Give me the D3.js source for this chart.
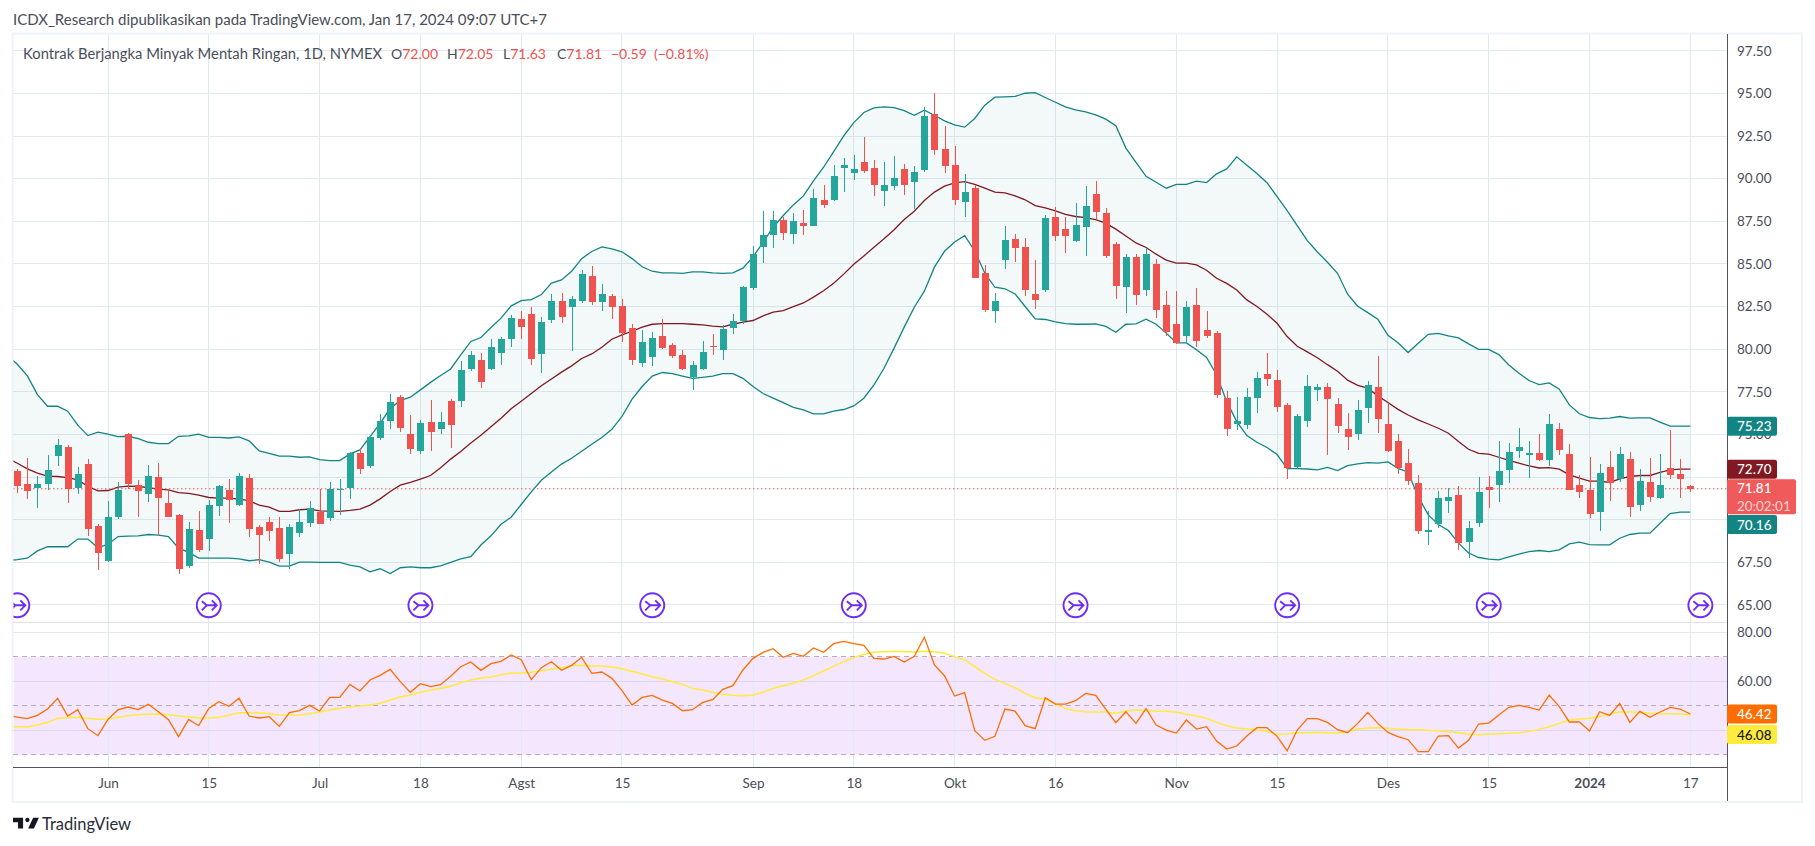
<!DOCTYPE html>
<html><head><meta charset="utf-8">
<script src="https://cdnjs.cloudflare.com/ajax/libs/d3/7.8.5/d3.min.js"></script>
<style>html,body{margin:0;padding:0;background:#fff;overflow:hidden}svg{display:block}text{font-family:Lato,"Noto Sans",sans-serif}</style>
</head><body><svg id="c" width="1815" height="846"></svg>
<script>
const opens=[72.87,72.10,71.85,72.10,73.75,74.27,71.85,73.28,69.64,67.59,
70.17,75.04,72.04,71.52,72.51,70.99,70.28,67.29,69.40,68.88,
70.81,71.75,70.87,72.45,69.58,69.87,69.52,68.00,69.23,69.82,
70.46,70.11,71.77,71.87,73.92,73.16,74.79,75.79,77.20,75.03,
74.03,75.70,75.30,76.93,76.93,78.84,79.37,78.84,79.78,80.60,
81.78,82.07,79.72,81.72,82.83,82.48,82.83,84.30,82.77,83.13,
82.54,81.25,79.20,79.55,80.78,80.25,79.66,78.38,78.84,80.19,
79.96,81.25,81.66,83.59,86.00,86.70,87.58,86.76,87.41,87.23,
88.76,88.76,90.63,90.34,90.98,90.63,89.28,89.58,90.57,89.81,
90.51,93.80,91.75,90.81,88.64,89.46,84.47,82.25,85.24,86.47,
86.00,83.24,83.48,87.76,87.05,86.35,87.17,89.11,87.99,86.17,
83.65,85.41,83.48,85.00,82.60,81.48,80.78,82.60,81.13,80.95,
77.14,75.61,75.56,77.14,78.55,78.19,76.73,73.09,75.79,77.61,
77.78,76.79,75.32,75.03,76.55,77.78,75.61,74.62,73.33,72.15,
69.28,69.75,71.10,71.45,68.71,69.81,71.92,72.04,72.92,74.03,
73.80,73.91,73.50,75.33,73.86,72.04,71.75,70.46,73.10,72.39,
73.57,70.87,72.22,71.28,73.04,72.69,72.00];
const closes=[71.95,71.69,72.10,72.92,74.39,71.81,72.69,69.46,68.06,70.17,
71.75,72.10,71.69,72.57,71.28,70.17,67.12,69.46,68.23,70.87,
71.99,71.16,72.57,69.46,69.11,69.35,67.70,69.58,69.87,70.70,
69.76,71.81,71.81,73.92,72.98,74.86,75.79,76.90,75.38,74.15,
75.67,75.16,75.74,75.57,78.78,79.66,78.10,80.13,80.60,81.83,
81.31,79.43,81.60,82.83,81.89,82.95,84.42,82.77,83.24,82.48,
80.96,79.37,80.43,80.66,80.08,79.61,78.84,79.08,79.84,80.13,
81.19,81.66,83.65,85.59,86.70,87.58,86.82,87.52,87.23,88.87,
88.46,90.16,90.81,90.57,90.46,89.64,89.64,90.05,89.64,90.40,
93.68,91.69,90.75,88.76,89.22,84.18,82.30,82.83,86.41,85.94,
83.48,82.89,87.70,86.64,86.64,87.29,88.40,88.05,85.47,83.71,
85.41,83.18,85.59,82.30,81.01,80.37,82.48,80.49,80.78,77.32,
75.32,75.79,77.20,78.31,78.25,76.61,73.03,76.08,77.84,77.78,
77.08,75.50,74.85,76.43,77.90,75.91,74.03,73.03,72.27,69.34,
69.40,71.27,71.33,68.62,69.51,71.63,71.74,72.86,73.97,74.27,
73.91,73.50,75.61,74.09,71.75,71.63,70.34,72.75,72.16,73.86,
70.75,72.28,71.34,72.04,72.63,72.39,71.81];
const highs=[72.98,73.61,72.57,73.80,74.74,74.39,73.10,73.57,69.76,71.11,
72.22,75.09,72.34,73.22,73.33,71.75,70.34,69.87,70.52,71.16,
72.04,72.40,72.75,72.69,69.70,70.17,70.17,69.76,70.64,71.11,
71.81,72.22,72.40,73.98,74.21,74.98,76.20,77.37,77.32,76.14,
75.85,77.00,76.30,77.10,79.31,79.90,79.78,80.60,80.72,82.01,
82.25,82.48,81.89,83.24,83.30,83.13,84.65,84.88,83.83,83.24,
82.95,81.48,81.13,81.01,81.78,80.37,79.96,79.31,80.49,80.90,
81.42,82.07,83.71,86.06,88.11,88.11,87.76,87.99,88.17,89.40,
89.64,90.81,91.22,91.39,92.45,91.10,90.98,91.34,90.87,90.75,
94.21,95.03,93.10,91.92,90.28,89.64,84.94,83.30,87.23,86.76,
86.53,85.24,87.88,88.34,87.76,88.58,89.58,89.87,88.29,86.29,
85.59,85.59,85.94,85.30,83.42,83.42,82.83,83.59,82.25,81.07,
77.55,77.20,77.73,78.66,79.78,78.78,76.85,76.20,78.49,77.96,
78.02,77.14,76.26,77.02,78.14,79.60,76.79,75.03,74.15,72.62,
70.51,71.68,71.86,71.98,69.92,72.51,72.56,74.62,74.50,75.38,
74.62,75.03,76.20,75.68,74.45,72.63,73.68,73.27,74.04,74.27,
73.98,72.98,73.63,73.86,75.27,73.57,72.05];
const lows=[71.59,71.24,70.71,71.75,73.16,70.99,71.52,69.05,67.06,67.53,
70.05,71.79,70.17,71.05,69.05,70.17,66.82,67.18,68.11,68.17,
70.23,69.82,70.81,68.99,67.41,68.76,67.53,67.12,68.99,69.58,
69.76,69.93,70.28,71.22,72.69,73.04,74.68,75.32,75.15,73.85,
73.86,74.00,75.00,74.20,76.60,78.69,77.70,78.78,79.08,80.13,
80.60,79.08,78.60,81.54,81.54,79.90,82.71,82.60,82.25,81.78,
80.43,79.08,78.96,79.02,80.02,79.49,78.78,77.61,78.78,79.66,
79.37,80.90,81.48,83.48,85.06,85.94,86.41,86.18,86.70,87.23,
88.29,88.70,89.22,89.93,90.34,88.99,88.40,89.34,89.05,88.23,
90.40,91.39,90.34,88.46,87.76,84.18,82.19,81.54,84.71,85.12,
83.13,82.36,83.36,86.35,85.65,86.29,85.47,87.58,85.35,82.95,
82.13,82.60,83.13,81.83,80.78,80.31,80.31,80.13,80.66,77.14,
74.91,75.26,75.32,76.26,77.84,76.32,72.39,72.97,75.44,76.96,
73.80,75.09,74.09,74.68,75.67,75.09,73.97,72.68,72.04,69.16,
68.52,69.51,70.39,68.22,67.77,69.57,70.69,71.04,72.15,73.62,
72.45,73.44,73.15,73.80,71.75,71.28,70.11,69.34,71.10,72.22,
70.16,70.52,71.04,71.22,72.39,71.28,71.63];
// Indicator series start one bar before the first visible candle (clipped by the pane edge)
const bbUpper=[79.66,
79.11,78.43,77.33,76.65,76.65,76.36,75.54,74.93,75.13,75.01,
74.87,74.89,74.75,74.54,74.46,74.46,74.89,74.91,75.01,74.83,
74.83,74.79,74.85,74.62,74.03,73.89,73.72,73.72,73.66,73.68,
73.52,73.46,73.46,73.86,74.09,74.87,75.65,76.53,76.98,77.18,
77.61,78.05,78.45,78.84,79.66,80.45,80.68,81.27,81.82,82.54,
82.85,82.91,83.20,83.87,84.06,84.57,85.31,85.73,86.00,85.88,
85.71,85.31,84.83,84.57,84.47,84.47,84.45,84.53,84.53,84.47,
84.45,84.47,84.75,85.41,86.27,87.15,87.84,88.46,88.99,89.87,
90.67,91.59,92.51,93.29,93.88,94.15,94.21,94.17,93.99,93.72,
94.01,93.72,93.39,93.15,93.02,93.53,94.31,94.78,94.80,94.82,
95.01,95.05,94.76,94.48,94.21,94.03,93.92,93.74,93.49,93.10,
91.79,90.95,90.14,89.79,89.44,89.67,89.67,89.85,89.77,90.28,
90.57,91.28,90.78,90.30,89.76,88.94,88.13,87.25,86.36,85.70,
85.10,84.45,83.22,82.52,82.14,81.75,80.81,80.38,79.80,80.35,
80.87,80.93,80.78,80.66,80.31,79.99,79.99,79.68,79.07,78.59,
78.16,77.92,78.02,77.65,76.73,76.21,75.99,75.93,75.95,76.05,
75.95,75.97,75.97,75.72,75.48,75.48,75.48];
const bbBasis=[73.61,
73.31,72.98,72.73,72.55,72.53,72.47,72.34,71.95,71.69,71.71,
71.91,71.97,71.95,71.87,71.79,71.75,71.59,71.54,71.44,71.30,
71.26,71.26,71.20,71.11,70.85,70.73,70.48,70.48,70.58,70.62,
70.52,70.50,70.48,70.54,70.62,70.85,71.22,71.65,72.02,72.18,
72.38,72.59,73.05,73.55,74.00,74.50,74.95,75.45,75.95,76.50,
76.95,77.40,77.85,78.25,78.65,79.02,79.45,79.72,80.11,80.58,
80.84,81.05,81.29,81.46,81.50,81.50,81.50,81.46,81.42,81.35,
81.31,81.46,81.58,81.68,81.95,82.17,82.26,82.50,82.71,83.05,
83.42,83.87,84.40,84.98,85.47,85.98,86.47,87.00,87.60,88.09,
88.72,89.21,89.56,89.75,89.83,89.67,89.44,89.21,89.17,88.99,
88.76,88.42,88.29,88.11,87.91,87.78,87.72,87.60,87.39,87.04,
86.64,86.23,85.96,85.57,85.22,85.04,85.04,84.94,84.63,84.16,
83.86,83.47,82.89,82.50,82.05,81.52,80.74,80.17,79.84,79.50,
79.09,78.70,78.18,77.88,77.71,77.26,76.87,76.47,76.14,75.85,
75.61,75.36,75.07,74.58,74.13,73.89,73.84,73.66,73.48,73.31,
73.15,73.03,73.05,72.96,72.63,72.43,72.26,72.26,72.18,72.39,
72.53,72.59,72.59,72.77,72.92,72.96,72.96];
const bbLower=[67.61,
67.65,67.74,68.17,68.41,68.41,68.41,68.86,68.86,68.35,68.56,
69.01,69.03,69.05,69.13,69.09,69.01,68.33,68.08,67.74,67.74,
67.74,67.74,67.70,67.59,67.65,67.51,67.27,67.27,67.51,67.51,
67.49,67.49,67.49,67.33,67.23,66.94,67.12,66.84,67.18,67.23,
67.18,67.18,67.29,67.49,67.70,67.83,68.51,69.05,69.73,70.14,
70.89,71.63,72.31,72.79,73.26,73.60,74.01,74.42,74.82,75.30,
76.05,77.07,77.81,78.42,78.63,78.56,78.42,78.29,78.35,78.42,
78.56,78.56,78.29,77.81,77.40,77.13,76.86,76.59,76.44,76.20,
76.20,76.36,76.46,76.67,77.12,77.91,78.88,80.06,81.29,82.46,
83.40,84.81,85.74,86.29,86.66,85.76,84.45,83.63,83.54,83.24,
82.50,81.78,81.74,81.60,81.50,81.46,81.46,81.48,81.33,80.99,
81.46,81.48,81.76,81.46,80.94,80.37,80.37,79.96,79.51,78.50,
76.92,75.75,74.93,74.54,74.23,73.82,72.99,72.99,72.97,72.92,
73.07,72.88,73.17,73.27,73.35,73.31,73.39,73.01,72.78,71.35,
70.28,69.71,69.36,68.62,68.04,67.78,67.68,67.64,67.82,67.98,
68.13,68.19,68.13,68.23,68.58,68.68,68.54,68.52,68.52,68.91,
69.13,69.21,69.21,69.79,70.36,70.44,70.44];
const rsi=[46.08,
45.39,44.71,46.08,48.66,53.02,45.80,48.39,40.63,37.77,44.44,
48.39,49.48,48.39,50.57,47.57,44.31,37.36,44.44,41.85,48.94,
51.66,49.76,53.02,45.80,44.99,45.53,41.58,47.17,47.98,50.16,
47.85,53.43,53.43,58.74,56.02,60.51,62.42,64.87,59.83,55.47,
59.01,57.79,58.61,62.01,65.96,67.87,64.46,67.19,68.14,70.73,
68.82,60.65,65.55,68.00,64.46,66.51,69.77,63.24,63.78,61.19,
56.15,50.29,53.42,54.24,52.33,50.97,47.97,48.38,51.38,52.47,
56.69,58.19,64.60,69.37,71.82,73.32,69.77,71.41,70.18,73.59,
71.82,75.36,76.31,75.36,74.68,69.37,69.09,70.18,67.87,70.18,
77.95,66.64,62.28,53.97,55.33,39.81,35.86,37.49,48.66,47.84,
41.85,40.62,53.29,50.70,50.70,52.06,55.06,54.24,48.66,43.08,
47.57,42.80,48.79,42.12,40.08,38.85,44.16,40.49,41.44,35.58,
32.31,33.54,37.63,41.03,41.03,37.49,31.63,40.08,44.71,44.71,
43.21,40.21,38.99,42.80,47.30,42.80,39.12,37.35,36.13,31.22,
31.22,37.63,37.77,32.72,35.86,42.53,42.94,46.21,49.34,50.16,
49.34,48.25,54.38,49.61,43.35,43.35,39.67,47.57,46.07,50.97,
43.21,47.71,45.25,47.43,49.34,48.66,46.62];
const rsiMa=[41.44,
41.44,41.31,42.13,43.22,44.85,45.12,45.26,44.85,44.44,44.58,
45.26,45.94,46.35,46.49,46.62,46.35,45.80,45.53,44.99,44.99,
45.26,46.08,47.17,47.17,47.03,46.76,46.21,46.08,46.21,46.76,
47.44,48.26,48.94,49.62,49.89,50.30,50.98,52.34,53.57,54.38,
55.47,56.29,57.11,57.93,59.42,60.51,61.33,61.74,62.69,63.37,
63.37,63.65,64.33,64.87,65.55,66.37,66.51,66.23,66.23,65.82,
65.14,64.05,62.96,61.87,60.92,59.83,58.74,57.11,56.43,55.47,
54.66,54.24,54.10,54.38,55.47,57.11,58.20,59.15,60.51,62.28,
64.19,66.10,68.00,69.64,71.00,71.82,72.09,72.23,72.09,71.95,
72.23,72.09,71.41,70.05,68.82,65.96,63.24,60.79,59.15,57.38,
55.06,53.29,52.61,50.57,48.93,47.98,47.57,47.43,47.43,46.89,
47.84,48.25,47.98,47.70,47.70,47.43,46.48,45.80,44.85,43.21,
41.85,40.90,40.49,40.08,39.67,38.31,38.44,38.99,38.99,39.12,
38.99,38.85,39.40,40.49,40.90,41.03,40.76,40.35,40.21,40.21,
39.94,39.81,39.40,38.99,38.44,38.17,38.44,38.58,38.72,38.99,
39.53,40.35,41.44,42.80,44.16,44.57,44.85,45.53,46.62,47.43,
47.43,47.30,46.89,46.75,46.75,46.62,46.35];
const dateTickIdx=[9,19,30,40,50,60,73,83,93,103,115,125,136,146,156,166];
const dateTickLabels=["Jun","15","Jul","18","Agst","15","Sep","18","Okt","16","Nov","15","Des","15","2024","17"];
const priceTicks=[65,67.5,70,72.5,75,77.5,80,82.5,85,87.5,90,92.5,95,97.5];
const priceTicksCovered=[70,72.5]; // grid only: their labels sit under the value badges
const rsiTicks=[40,60,80];
const rsiTicksCovered=[40];
const rsiLevels=[30,50,70];
const rolloverIdx=[0,19,40,63,83,105,126,146,167];
const lastPrice=71.81;
const title="ICDX_Research dipublikasikan pada TradingView.com, Jan 17, 2024 09:07 UTC+7";
const symbolName="Kontrak Berjangka Minyak Mentah Ringan, 1D, NYMEX";
const ohlcLegend=[["O","72.00"],["H","72.05"],["L","71.63"],["C","71.81"]];

[highs,lows,closes,opens].forEach(a=>{if(a.length!==167)throw new Error("ohlc len "+a.length)});
[bbUpper,bbBasis,bbLower,rsi,rsiMa].forEach(a=>{if(a.length!==168)throw new Error("ind len "+a.length)});

const L=13,R=1727,T=34,SEP=622,AX=767.5,FR=1802,FB=802;
const UP="#26A69A",DN="#EF5350",TEAL="#138484",MAROON="#801922",TXT="#4A4E59",GRID="#E1EAF1";
const svg=d3.select("#c");
const x=d3.scaleLinear().domain([0,166]).range([17.3,1690.3]);
const y=d3.scaleLinear().domain([65,95]).range([604.9,93.4]);
const ry=d3.scaleLinear().domain([30,80]).range([754.7,632.3]);
const cx=i=>x(i-1);

// frame
svg.append("rect").attr("x",12.5).attr("y",33.5).attr("width",FR-12.5).attr("height",FB-33.5).attr("fill","#fff").attr("stroke","#F0F3FA").attr("stroke-width",2);
const defs=svg.append("defs");
defs.append("clipPath").attr("id","main").append("rect").attr("x",L+.5).attr("y",T).attr("width",R-L-.5).attr("height",SEP-T);
defs.append("clipPath").attr("id","sub").append("rect").attr("x",L+.5).attr("y",SEP).attr("width",R-L-.5).attr("height",AX-SEP);

// rsi background
svg.append("rect").attr("x",L+1).attr("y",ry(70)).attr("width",R-L-1).attr("height",ry(30)-ry(70)).attr("fill","#F4E6FD");

// grid
const g=svg.append("g").attr("shape-rendering","crispEdges");
g.selectAll(".vg").data(dateTickIdx).join("line").attr("x1",x).attr("x2",x).attr("y1",T).attr("y2",AX).attr("stroke",GRID);
g.selectAll(".hg").data(priceTicks).join("line").attr("x1",L).attr("x2",R).attr("y1",y).attr("y2",y).attr("stroke",GRID);
g.selectAll(".rg").data(rsiTicks).join("line").attr("x1",L).attr("x2",R).attr("y1",ry).attr("y2",ry).attr("stroke",d=>d===80?GRID:"#DDD5F2");
g.append("line").attr("x1",L).attr("x2",R).attr("y1",SEP).attr("y2",SEP).attr("stroke","#E0E3EB");
g.selectAll(".lv").data(rsiLevels).join("line").attr("x1",L).attr("x2",R).attr("y1",ry).attr("y2",ry).attr("stroke","#B7ADBF").attr("stroke-dasharray","5,4");

// main pane
const m=svg.append("g").attr("clip-path","url(#main)");
m.append("path").datum(d3.range(168)).attr("fill",TEAL).attr("fill-opacity",.05)
 .attr("d",d3.area().x(cx).y0(i=>y(bbLower[i])).y1(i=>y(bbUpper[i])));
const ln=(arr,sc)=>d3.line().x((d,i)=>cx(i)).y(d=>sc(d))(arr);
m.append("path").attr("d",ln(bbUpper,y)).attr("fill","none").attr("stroke",TEAL).attr("stroke-width",1.3);
m.append("path").attr("d",ln(bbLower,y)).attr("fill","none").attr("stroke",TEAL).attr("stroke-width",1.3);
m.append("path").attr("d",ln(bbBasis,y)).attr("fill","none").attr("stroke",MAROON).attr("stroke-width",1.3);
m.append("line").attr("x1",L).attr("x2",R).attr("y1",y(lastPrice)).attr("y2",y(lastPrice)).attr("stroke",DN).attr("stroke-dasharray","1.5,2.5");
const bars=m.append("g").attr("shape-rendering","crispEdges");
const col=i=>closes[i]>=opens[i]?UP:DN;
bars.selectAll(".w").data(d3.range(167)).join("line")
 .attr("x1",i=>Math.round(x(i))).attr("x2",i=>Math.round(x(i)))
 .attr("y1",i=>y(highs[i])).attr("y2",i=>y(lows[i])).attr("stroke",col);
bars.selectAll(".b").data(d3.range(167)).join("rect")
 .attr("x",i=>Math.round(x(i))-3.5).attr("width",7)
 .attr("y",i=>y(Math.max(opens[i],closes[i])))
 .attr("height",i=>Math.max(1,Math.abs(y(opens[i])-y(closes[i])))).attr("fill",col);

// rollover markers
const PURPLE="#6F2CF5";
const rm=m.selectAll(".r").data(rolloverIdx).join("g").attr("transform",i=>`translate(${x(i)},605.3)`);
rm.append("circle").attr("r",12).attr("fill","#fff").attr("stroke",PURPLE).attr("stroke-width",1.9);
rm.append("path").attr("d","M-7,-4 L-2,0 H8 M3,-5 L8,0 L3,5 M-2,0 L-7,5").attr("fill","none").attr("stroke",PURPLE).attr("stroke-width",1.9);

// rsi pane
const s=svg.append("g").attr("clip-path","url(#sub)");
s.append("path").attr("d",ln(rsiMa,ry)).attr("fill","none").attr("stroke","#FFEB3B").attr("stroke-width",1.5);
s.append("path").attr("d",ln(rsi,ry)).attr("fill","none").attr("stroke","#FF6D00").attr("stroke-width",1.3);

// axes
const axisFont=13.5;
const xa=svg.append("g").attr("transform",`translate(0,${AX})`)
 .call(d3.axisBottom(x).tickValues(dateTickIdx).tickSize(0).tickPadding(11).tickFormat((d,i)=>dateTickLabels[i]));
xa.select(".domain").remove();
xa.selectAll("text").attr("font-size",axisFont).attr("fill",TXT).attr("font-weight",(d,i)=>dateTickLabels[i]==="2024"?"700":"400");
svg.append("line").attr("x1",L).attr("x2",R).attr("y1",AX).attr("y2",AX).attr("stroke","#50535E").attr("shape-rendering","crispEdges");
svg.append("line").attr("x1",R).attr("x2",R).attr("y1",T).attr("y2",FB-1).attr("stroke","#50535E").attr("shape-rendering","crispEdges");
const ya=svg.append("g").attr("transform",`translate(${R},0)`)
 .call(d3.axisRight(y).tickValues(priceTicks.filter(t=>!priceTicksCovered.includes(t))).tickSize(0).tickPadding(10).tickFormat(d3.format(".2f")));
ya.select(".domain").remove();
ya.selectAll("text").attr("font-size",axisFont).attr("fill",TXT);
const ra=svg.append("g").attr("transform",`translate(${R},0)`)
 .call(d3.axisRight(ry).tickValues(rsiTicks.filter(t=>!rsiTicksCovered.includes(t))).tickSize(0).tickPadding(10).tickFormat(d3.format(".2f")));
ra.select(".domain").remove();
ra.selectAll("text").attr("font-size",axisFont).attr("fill",TXT);

// price labels
const badge=(yc,h,w,fill,lines,tc)=>{
 const gg=svg.append("g");
 gg.append("rect").attr("x",R).attr("y",yc).attr("width",w).attr("height",h).attr("rx",2).attr("fill",fill);
 lines.forEach((t,i)=>gg.append("text").attr("x",R+10).attr("y",yc+(h/lines.length)*(i+.5)+5).attr("font-size",13.5).attr("font-weight",i?"400":"500").attr("fill",i?"rgba(255,255,255,.75)":tc).text(t));
};
badge(y(bbUpper[167])-9.5,19,50,TEAL,["75.23"],"#fff");
badge(y(bbBasis[167])-9.5,19,50,MAROON,["72.70"],"#fff");
badge(y(lastPrice)-9.5,35,69,"#F05A5A",["71.81","20:02:01"],"#fff");
badge(515,19,50,TEAL,["70.16"],"#fff");
badge(ry(rsi[167])-9.5,19,50,"#FF6D00",["46.42"],"#fff");
badge(725,19,50,"#FFEB3B",["46.08"],"#131722");

// header + legend
svg.append("text").attr("x",13).attr("y",25).attr("font-size",15).attr("fill",TXT).text(title);
svg.append("text").attr("x",23).attr("y",59).attr("font-size",14.8).attr("fill",TXT).text(symbolName);
const RED="#EF5350";
const legendX=[391,447,503,557];
ohlcLegend.forEach(([k,v],i)=>{
 const t=svg.append("text").attr("x",legendX[i]).attr("y",59).attr("font-size",14);
 t.append("tspan").attr("fill",TXT).text(k);
 t.append("tspan").attr("fill",RED).text(v);
});
[["−0.59",611],["(−0.81%)",654]].forEach(([t,px])=>svg.append("text").attr("x",px).attr("y",59).attr("font-size",14).attr("fill",RED).text(t));

// logo
const logo=svg.append("g").attr("transform","translate(13,813.5) scale(0.72)");
logo.append("path").attr("fill","#131722").attr("d","M14 6H0v6h7v9h7V6zm15 15h-8l7-15h8l-7 15zm-9-9a3 3 0 1 0 0-6 3 3 0 0 0 0 6z");
svg.append("text").attr("x",42).attr("y",830).attr("font-size",16.5).attr("fill","#2A2E39").text("TradingView");
</script></body></html>
